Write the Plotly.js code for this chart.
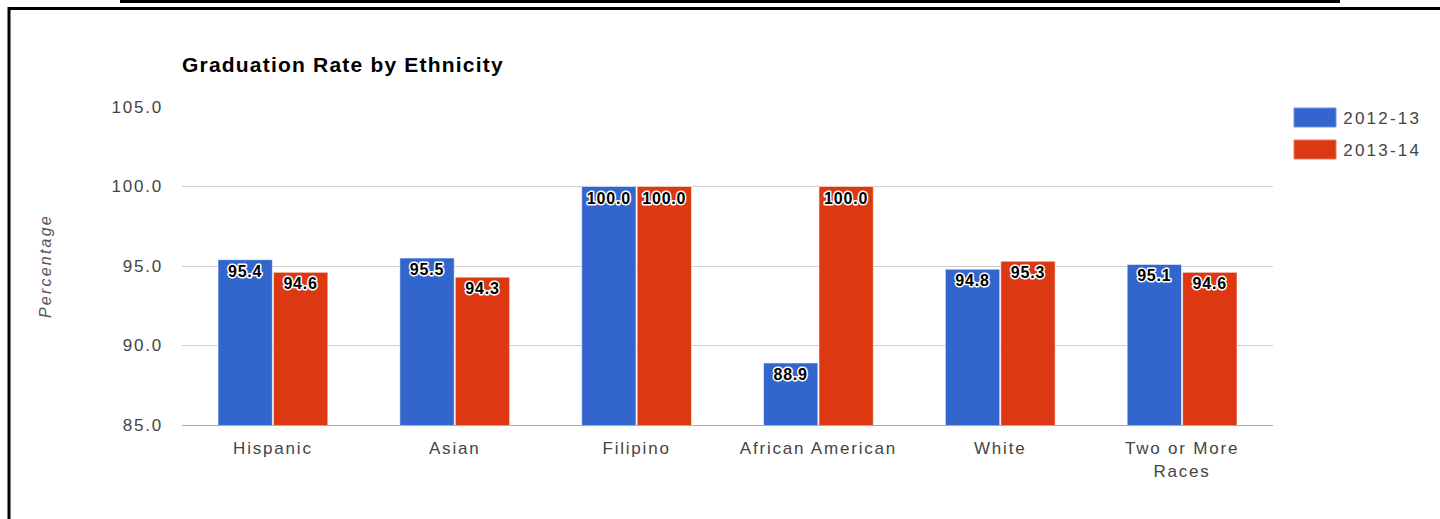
<!DOCTYPE html>
<html>
<head>
<meta charset="utf-8">
<script src="https://cdn.plot.ly/plotly-3.0.1.min.js"></script>
<style>
  html, body { margin: 0; padding: 0; background: #fff; }
  #chart { width: 1440px; height: 519px; }
  #chart .xtick text, #chart .ytick text { letter-spacing: 1.8px; }
  #chart .gtitle { letter-spacing: 1.2px; }
  #chart .annotation-text { letter-spacing: 2.2px; }
  #chart .bartext {
    paint-order: stroke fill;
    stroke: #ffffff;
    stroke-width: 3px;
    stroke-linejoin: round;
    letter-spacing: 0.8px;
  }
</style>
</head>
<body>
<div id="chart"></div>
<script>
const categories = ["Hispanic", "Asian", "Filipino", "African American", "White", "Two or More<br>Races"];
const seriesNames = ["2012-13", "2013-14"];
const values2012 = [95.4, 95.5, 100.0, 88.9, 94.8, 95.1];
const values2013 = [94.6, 94.3, 100.0, 100.0, 95.3, 94.6];
const yTicks = [85, 90, 95, 100, 105];
const colors = ["#3366cc", "#dc3912"];

const W = 1440, H = 519;
const L = 182, R = 1273, T = 107, B = 425;
const px = x => (x - L) / (R - L);
const py = y => (B - y) / (B - T);

const font = "Liberation Sans, Arial, sans-serif";

function barTrace(name, vals, color) {
  const tf = { family: font, size: 16, color: "#000000", weight: "bold" };
  return {
    type: "bar",
    name: name,
    x: categories,
    y: vals,
    marker: { color: color, line: { color: "rgba(255,255,255,0.55)", width: 1 } },
    text: vals.map(v => v.toFixed(1)),
    textposition: "inside",
    insidetextanchor: "end",
    constraintext: "none",
    textangle: 0,
    textfont: tf,
    insidetextfont: tf,
    hoverinfo: "skip",
    showlegend: false
  };
}

const data = [
  barTrace(seriesNames[0], values2012, colors[0]),
  barTrace(seriesNames[1], values2013, colors[1])
];

const shapes = [
  { type: "line", xref: "paper", yref: "paper", x0: px(120), x1: px(1340), y0: py(1.5), y1: py(1.5), line: { color: "#000", width: 3 } },
  { type: "line", xref: "paper", yref: "paper", x0: px(8), x1: px(1440), y0: py(8.5), y1: py(8.5), line: { color: "#000", width: 3 } },
  { type: "line", xref: "paper", yref: "paper", x0: px(9), x1: px(9), y0: py(7), y1: py(519), line: { color: "#000", width: 3 } },
  { type: "rect", xref: "paper", yref: "paper", x0: px(1294), x1: px(1336), y0: py(108), y1: py(127), fillcolor: colors[0], line: { color: "#6f93dd", width: 1 } },
  { type: "rect", xref: "paper", yref: "paper", x0: px(1294), x1: px(1336), y0: py(140), y1: py(159), fillcolor: colors[1], line: { color: "#ea7a63", width: 1 } }
];

const annotations = [
  { xref: "paper", yref: "paper", x: px(1349), y: py(118), xanchor: "left", yanchor: "middle", text: seriesNames[0], showarrow: false, font: { family: font, size: 17, color: "#444" } },
  { xref: "paper", yref: "paper", x: px(1349), y: py(150), xanchor: "left", yanchor: "middle", text: seriesNames[1], showarrow: false, font: { family: font, size: 17, color: "#444" } },
  { xref: "paper", yref: "paper", x: px(45), y: py(266), xanchor: "center", yanchor: "middle", textangle: -90, text: "<i>Percentage</i>", showarrow: false, font: { family: font, size: 16, color: "#555" } }
];

const layout = {
  width: W, height: H,
  margin: { l: L, r: W - R, t: T, b: H - B, pad: 0 },
  paper_bgcolor: "#fff",
  plot_bgcolor: "#fff",
  title: {
    text: "<b>Graduation Rate by Ethnicity</b>",
    x: 0, xref: "paper", xanchor: "left",
    y: 1 - 65 / H, yref: "container", yanchor: "middle",
    font: { family: font, size: 21, color: "#000" }
  },
  barmode: "group",
  bargap: 0.39,
  bargroupgap: 0.02,
  xaxis: {
    type: "category",
    tickfont: { family: font, size: 17, color: "#444" },
    ticks: "",
    showline: true, linecolor: "#aaa", linewidth: 1,
    ticklabelstandoff: 8,
    fixedrange: true
  },
  yaxis: {
    range: [85, 105],
    tickvals: yTicks,
    ticktext: yTicks.map(v => v.toFixed(1)),
    tickfont: { family: font, size: 17, color: "#444" },
    gridcolor: "#d0d0d0", gridwidth: 1,
    zeroline: false,
    ticks: "",
    ticklabelstandoff: 18,
    fixedrange: true
  },
  showlegend: false,
  shapes: shapes,
  annotations: annotations
};

Plotly.newPlot("chart", data, layout, { displayModeBar: false, staticPlot: true });
</script>
</body>
</html>
